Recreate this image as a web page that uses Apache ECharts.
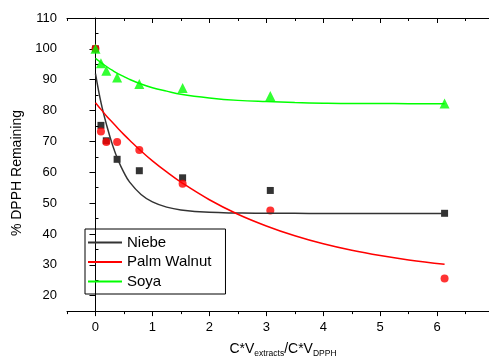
<!DOCTYPE html>
<html>
<head>
<meta charset="utf-8">
<script src="https://cdn.jsdelivr.net/npm/echarts@6/dist/echarts.min.js"></script>
<style>
  html, body { margin: 0; padding: 0; background: #fff; }
  #main { width: 489px; height: 363px; }
</style>
</head>
<body>
<div id="main"></div>
<script>
// measured points (x = C*V extracts / C*V DPPH)
var xPts = [0, 0.096, 0.19, 0.38, 0.77, 1.53, 3.07, 6.13];
var niebeVals = [100, 75.2, 70.2, 64.2, 60.5, 58.2, 54.1, 46.7];
var palmVals = [100, 73.2, 69.8, 69.8, 67.2, 56.3, 47.6, 25.6];
var soyaVals = [100, 95.3, 92.9, 90.7, 88.6, 87.3, 84.7, 82.3];

// fitted curves
var fitX = [0, 0.1, 0.2, 0.3, 0.4, 0.5, 0.6, 0.8, 1.0, 1.25, 1.5, 2.0, 2.5, 3.0, 3.5, 4.0, 4.5, 5.0, 5.5, 6.13];
var niebeFit = [92.0, 82.3, 75.0, 68.8, 63.8, 59.9, 56.8, 52.8, 50.4, 48.7, 47.8, 47.0, 46.8, 46.7, 46.7, 46.6, 46.6, 46.6, 46.6, 46.6];
var palmFit = [82.5, 80.3, 78.1, 76.1, 74.1, 72.2, 70.4, 66.9, 63.7, 60.1, 56.8, 51.1, 46.4, 42.6, 39.4, 36.8, 34.7, 33.0, 31.6, 30.2];
var soyaFit = [96.9, 95.5, 94.2, 93.0, 91.9, 91.0, 90.1, 88.6, 87.4, 86.3, 85.3, 84.1, 83.3, 82.9, 82.6, 82.4, 82.3, 82.3, 82.2, 82.2];

// axis ticks
var xMajor = [0, 1, 2, 3, 4, 5, 6];
var xMinor = [-0.5, 0.5, 1.5, 2.5, 3.5, 4.5, 5.5, 6.5];
var yMajor = [20, 30, 40, 50, 60, 70, 80, 90, 100, 110];
var yMinor = [25, 35, 45, 55, 65, 75, 85, 95, 105];

function pairs(xs, ys) {
    return xs.map(function (x, i) { return [x, ys[i]]; });
}

var FONT = '"Liberation Sans", Arial, sans-serif';
var lineBlack = { color: '#000', width: 1 };

function xAx(pos, ticks, inside, len, showLine, labels) {
    return {
        type: 'value', position: pos, min: -0.5, max: 6.91,
        axisLine: { show: showLine, onZero: false, lineStyle: lineBlack },
        axisTick: { show: true, inside: inside, length: len, customValues: ticks, lineStyle: lineBlack },
        axisLabel: labels ? { customValues: xMajor, color: '#000', fontSize: 13, fontFamily: FONT, margin: 10 } : { show: false },
        splitLine: { show: false }
    };
}

function fitLine(name, ys, color) {
    return {
        name: name, type: 'line', symbol: 'none', smooth: 0.4,
        data: pairs(fitX, ys),
        lineStyle: { color: color, width: 1.5 }, itemStyle: { color: color }
    };
}

var myChart = echarts.init(document.getElementById('main'));
var xName = xAx('bottom', xMajor, false, 5, true, true);
xName.name = '{a|C*V}{b|extracts}{a|/C*V}{b|DPPH}';
xName.nameLocation = 'middle';
xName.nameGap = 29;
xName.nameTextStyle = {
    padding: [0, 0, 0, 10],
    rich: {
        a: { fontSize: 14, fontFamily: FONT, color: '#000', lineHeight: 16, verticalAlign: 'top' },
        b: { fontSize: 8.5, fontFamily: FONT, color: '#000', lineHeight: 10, padding: [10, 0, 0, 0], verticalAlign: 'bottom' }
    }
};

myChart.setOption({
    animation: false,
    backgroundColor: '#fff',
    grid: { left: 67, right: 0, top: 18, bottom: 48 },
    legend: {
        data: ['Niebe', 'Palm Walnut', 'Soya'],
        orient: 'vertical',
        left: 85, top: 229,
        padding: [6, 14, 5, 2],
        itemWidth: 34, itemHeight: 14, itemGap: 4.5,
        borderColor: '#000', borderWidth: 1,
        itemStyle: { opacity: 0 },
        textStyle: { fontSize: 15, fontFamily: FONT, color: '#000' }
    },
    xAxis: [
        xName,
        xAx('bottom', xMinor, false, 3, false, false),
        xAx('top', xMajor, true, 5, true, false),
        xAx('top', xMinor, true, 3, false, false)
    ],
    yAxis: [
        {
            type: 'value', min: 15, max: 110,
            axisLine: { show: true, lineStyle: lineBlack },
            axisTick: { show: true, length: 6, customValues: yMajor, lineStyle: lineBlack },
            axisLabel: { customValues: yMajor, color: '#000', fontSize: 13, fontFamily: FONT, margin: 10 },
            splitLine: { show: false },
            name: '% DPPH Remaining',
            nameLocation: 'middle',
            nameGap: 39,
            nameTextStyle: { fontSize: 14, fontFamily: FONT, color: '#000', padding: [0, 17, 0, 0] }
        },
        {
            type: 'value', min: 15, max: 110,
            axisLine: { show: false },
            axisTick: { show: true, length: 3, customValues: yMinor, lineStyle: lineBlack },
            axisLabel: { show: false },
            splitLine: { show: false }
        }
    ],
    series: [
        fitLine('Niebe', niebeFit, '#333'),
        fitLine('Palm Walnut', palmFit, '#ff0000'),
        fitLine('Soya', soyaFit, '#00ff00'),
        {
            name: 'Niebe data', type: 'scatter', symbol: 'rect', symbolSize: 7,
            data: pairs(xPts, niebeVals), itemStyle: { color: '#000' }
        },
        {
            name: 'Palm Walnut data', type: 'scatter', symbol: 'circle', symbolSize: 8,
            data: pairs(xPts, palmVals), itemStyle: { color: '#ff0000' }
        },
        {
            name: 'Soya data', type: 'scatter', symbol: 'triangle', symbolSize: 10,
            data: pairs(xPts, soyaVals), itemStyle: { color: '#00ff00' }
        }
    ]
});
</script>
</body>
</html>
